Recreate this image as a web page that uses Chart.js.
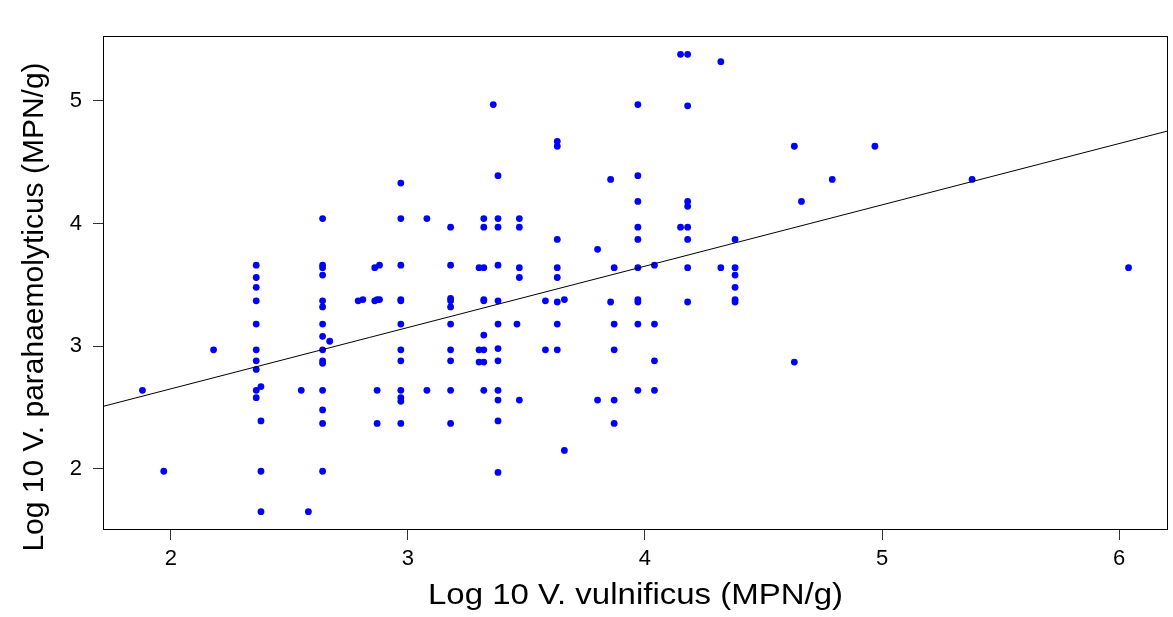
<!DOCTYPE html>
<html>
<head>
<meta charset="utf-8">
<title>V. vulnificus vs V. parahaemolyticus</title>
<script src="https://cdn.jsdelivr.net/npm/chart.js@4.4.1/dist/chart.umd.min.js"></script>
<style>
  body { margin: 0; background: #fff; }
  canvas { display: block; }
</style>
</head>
<body>
<canvas id="scatter" width="1173" height="617"></canvas>
<script>
// Log10 V. vulnificus levels (x) and the V. parahaemolyticus values seen at each level (y)
const vulnificusLevels = [
    1.88, 1.97, 2.18, 2.36, 2.38, 2.55, 2.58, 2.64, 2.67, 2.79, 2.81, 2.86, 2.87, 2.88,
    2.97, 3.08, 3.18, 3.30, 3.32, 3.36, 3.38, 3.46, 3.47, 3.58, 3.63, 3.66, 3.80, 3.855,
    3.87, 3.97, 4.04, 4.15, 4.18, 4.32, 4.38, 4.63, 4.66, 4.79, 4.97, 5.38, 6.04
];
const parahaemolyticusAtLevel = [
    [2.64],
    [1.98],
    [2.97],
    [3.66, 3.56, 3.48, 3.37, 3.18, 2.97, 2.88, 2.81, 2.64, 2.58],
    [2.67, 2.39, 1.98, 1.65],
    [2.64],
    [1.65],
    [4.04, 3.66, 3.64, 3.58, 3.37, 3.32, 3.18, 3.08, 2.97, 2.88, 2.86, 2.64, 2.48, 2.37, 1.98],
    [3.04],
    [3.37],
    [3.38],
    [3.64, 3.37],
    [3.38, 2.64, 2.37],
    [3.66, 3.38],
    [4.33, 4.04, 3.66, 3.38, 3.37, 3.18, 2.97, 2.88, 2.64, 2.58, 2.55, 2.37],
    [4.04, 2.64],
    [3.97, 3.66, 3.39, 3.37, 3.32, 3.18, 2.97, 2.88, 2.64, 2.37],
    [3.64, 2.97, 2.87],
    [4.04, 3.97, 3.64, 3.38, 3.37, 3.09, 2.97, 2.87, 2.64],
    [4.97],
    [4.39, 4.04, 3.97, 3.66, 3.37, 3.18, 2.98, 2.88, 2.64, 2.56, 2.39, 1.97],
    [3.18],
    [4.04, 3.97, 3.64, 3.56, 2.56],
    [3.37, 2.97],
    [4.67, 4.63, 3.87, 3.64, 3.56, 3.36, 3.18, 2.97],
    [3.38, 2.15],
    [3.79, 2.56],
    [4.36, 3.36],
    [3.64, 3.18, 2.97, 2.56, 2.37],
    [4.97, 4.39, 4.18, 3.97, 3.87, 3.64, 3.38, 3.36, 3.18, 2.64],
    [3.66, 3.18, 2.88, 2.64],
    [5.38, 3.97],
    [5.38, 4.96, 4.18, 4.14, 3.97, 3.87, 3.64, 3.36],
    [5.32, 3.64],
    [3.87, 3.64, 3.58, 3.48, 3.38, 3.36],
    [4.63, 2.87],
    [4.18],
    [4.36],
    [4.63],
    [4.36],
    [3.64]
];
const xTicks = [2, 3, 4, 5, 6];
const yTicks = [2, 3, 4, 5];

// least squares line
const fitIntercept = 1.652;
const fitSlope = 0.5;

const xTitle = 'Log 10 V. vulnificus (MPN/g)';
const yTitle = 'Log 10 V. parahaemolyticus (MPN/g)';

const points = [];
vulnificusLevels.forEach((x, i) => {
    parahaemolyticusAtLevel[i].forEach(y => points.push({ x: x, y: y }));
});

// R style axis limits: data range stretched by 4% on each side
function paddedRange(values) {
    const lo = Math.min(...values), hi = Math.max(...values);
    const pad = (hi - lo) * 0.04;
    return [lo - pad, hi + pad];
}
const [xMin, xMax] = paddedRange(points.map(p => p.x));
const [yMin, yMax] = paddedRange(points.map(p => p.y));

const fitLine = [
    { x: xMin, y: fitIntercept + fitSlope * xMin },
    { x: xMax, y: fitIntercept + fitSlope * xMax }
];

const fontFamily = '"Liberation Sans", Arial, sans-serif';

// box around the plot region plus the two axis titles
const frameAndTitles = {
    id: 'frameAndTitles',
    afterDraw(chart) {
        const { ctx, chartArea: a } = chart;
        ctx.save();
        ctx.strokeStyle = '#000';
        ctx.lineWidth = 1;
        const l = Math.round(a.left) + 0.5, t = Math.round(a.top) + 0.5;
        const r = Math.round(a.right) - 0.5, b = Math.round(a.bottom) - 0.5;
        ctx.strokeRect(l, t, r - l, b - t);

        ctx.fillStyle = '#000';
        ctx.font = '30px ' + fontFamily;
        ctx.textAlign = 'center';
        ctx.textBaseline = 'alphabetic';

        ctx.save();
        ctx.translate((a.left + a.right) / 2, 604);
        ctx.scale(1.1, 1);
        ctx.fillText(xTitle, 0, 0);
        ctx.restore();

        ctx.save();
        ctx.translate(43, 307);
        ctx.rotate(-Math.PI / 2);
        ctx.fillText(yTitle, 0, 0);
        ctx.restore();
        ctx.restore();
    }
};

function drawScatter() {
    const ctx = document.getElementById('scatter').getContext('2d');
    new Chart(ctx, {
        type: 'scatter',
        data: {
            datasets: [
                {
                    label: 'fit',
                    data: fitLine,
                    showLine: true,
                    borderColor: '#000',
                    borderWidth: 1,
                    pointRadius: 0,
                    fill: false
                },
                {
                    label: 'samples',
                    data: points,
                    backgroundColor: '#0000ff',
                    borderColor: '#0000ff',
                    borderWidth: 0,
                    pointRadius: 3.4
                }
            ]
        },
        options: {
            responsive: false,
            animation: false,
            layout: { padding: { top: 36, right: 5, left: 0, bottom: 0 } },
            plugins: {
                legend: { display: false },
                tooltip: { enabled: false }
            },
            scales: {
                x: {
                    type: 'linear',
                    position: 'bottom',
                    min: xMin,
                    max: xMax,
                    afterBuildTicks: scale => { scale.ticks = xTicks.map(v => ({ value: v })); },
                    afterFit: scale => { scale.height = 87; },
                    ticks: {
                        color: '#000',
                        padding: 6,
                        maxRotation: 0,
                        font: { family: fontFamily, size: 22 }
                    },
                    grid: { drawOnChartArea: false, drawTicks: true, tickLength: 10, tickColor: '#333' },
                    border: { display: false }
                },
                y: {
                    type: 'linear',
                    min: yMin,
                    max: yMax,
                    afterBuildTicks: scale => { scale.ticks = yTicks.map(v => ({ value: v })); },
                    afterFit: scale => { scale.width = 103; },
                    ticks: {
                        color: '#000',
                        padding: 11,
                        font: { family: fontFamily, size: 22 }
                    },
                    grid: { drawOnChartArea: false, drawTicks: true, tickLength: 10, tickColor: '#333' },
                    border: { display: false }
                }
            }
        },
        plugins: [frameAndTitles]
    });
}

drawScatter();
</script>
</body>
</html>
